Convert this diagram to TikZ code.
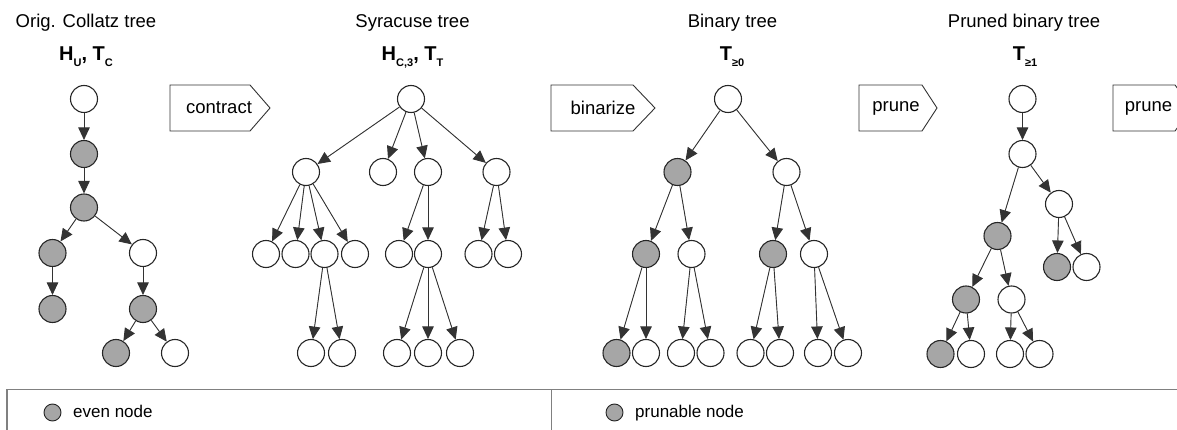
\documentclass[tikz,border=0pt]{standalone}
\usepackage{fontspec}
\setmainfont{Liberation Sans}
\usepackage{xcolor}
\usetikzlibrary{positioning, arrows.meta}
\definecolor{EvenFill}{RGB}{166, 166, 166}
\definecolor{EdgeGray}{RGB}{51, 51, 51}
\definecolor{FrameGray}{RGB}{128, 128, 128}
\newcommand{\tsub}[1]{\raisebox{-6pt}{\fontsize{11}{11}\selectfont #1}}

\begin{document}
\begin{tikzpicture}[x=1pt, y=-1pt,
            wnode/.style={circle, draw=black!85, line width=1.1pt, fill=white, minimum size=27pt, inner sep=0pt},
            gnode/.style={wnode, fill=EvenFill},
            edge/.style={draw=EdgeGray, line width=0.9pt, -{Triangle[length=12.5pt, width=11.5pt]}, fill=EdgeGray},
            stepbox/.style={draw=EdgeGray, line width=0.9pt, fill=white},
            steptext/.style={font=\fontsize{18.5}{20}\selectfont, inner sep=0pt},
            title/.style={font=\fontsize{18.5}{20}\selectfont, anchor=base},
            symb/.style={font=\fontsize{20}{22}\selectfont\bfseries, anchor=base},
            keytext/.style={font=\fontsize{17}{19}\selectfont, anchor=base west, inner sep=0pt}]
            \useasboundingbox (0,0) rectangle (1177,430);
            \clip (0,0) rectangle (1177,430);

            % Titles
            \node[title] (t1) at (86,28) {Orig. Collatz tree};
            \node[symb] (h1) at (86,61) {H\tsub{U}, T\tsub{C}};
            \node[title] (t2) at (412.5,28) {Syracuse tree};
            \node[symb] (h2) at (412.5,61) {H\tsub{C,3}, T\tsub{T}};
            \node[title] (t3) at (732.5,28) {Binary tree};
            \node[symb] (h3) at (732,61) {T\tsub{≥0}};
            \node[title] (t4) at (1024,28) {Pruned binary tree};
            \node[symb] (h4) at (1025,61) {T\tsub{≥1}};

            % Step arrows
            \draw[stepbox] (170,85) -- (250,85) -- (270,108) -- (250,131) -- (170,131) -- cycle;
            \node[steptext] (contract) at (219,108) {contract};
            \draw[stepbox] (551,85) -- (633,85) -- (655,108) -- (633,131) -- (551,131) -- cycle;
            \node[steptext] (binarize) at (603,108) {binarize};
            \draw[stepbox] (859,85) -- (922,85) -- (937,108) -- (922,131) -- (859,131) -- cycle;
            \node[steptext] (prune) at (896,108) {prune};
            \draw[stepbox] (1113,85) -- (1175,85) -- (1192,108) -- (1175,131) -- (1113,131) -- cycle;
            \node[steptext] (prunemore) at (1148.5,108) {prune};

            % Orig. Collatz tree
            \node[wnode] (c0) at (84,99) {};
            \node[gnode] (c1) at (84,154) {};
            \node[gnode] (c2) at (84,207.5) {};
            \node[gnode] (c3) at (52.5,253) {};
            \node[wnode] (c4) at (143,253) {};
            \node[gnode] (c5) at (52.5,309) {};
            \node[gnode] (c6) at (143,309) {};
            \node[gnode] (c7) at (116,353) {};
            \node[wnode] (c8) at (175,353) {};
            \foreach \a/\b in {c0/c1, c1/c2, c2/c3, c2/c4, c3/c5, c4/c6, c6/c7, c6/c8}
                \draw[edge] (\a) -- (\b);

            % Syracuse tree
            \node[wnode] (s0) at (411,99) {};
            \node[wnode] (s1) at (306,172) {};
            \node[wnode] (s2) at (383,172) {};
            \node[wnode] (s3) at (428,172) {};
            \node[wnode] (s4) at (496.5,172) {};
            \node[wnode] (s5) at (266,254) {};
            \node[wnode] (s6) at (295.5,254) {};
            \node[wnode] (s7) at (324.5,254) {};
            \node[wnode] (s8) at (355,254) {};
            \node[wnode] (s9) at (399,254) {};
            \node[wnode] (s10) at (428,254) {};
            \node[wnode] (s11) at (478.5,254) {};
            \node[wnode] (s12) at (508,254) {};
            \node[wnode] (s13) at (311,353) {};
            \node[wnode] (s14) at (342,353) {};
            \node[wnode] (s15) at (397,353) {};
            \node[wnode] (s16) at (428,353) {};
            \node[wnode] (s17) at (460,353) {};
            \foreach \a/\b in {s0/s1, s0/s2, s0/s3, s0/s4, s1/s5, s1/s6, s1/s7, s1/s8, s3/s9, s3/s10,
                               s4/s11, s4/s12, s7/s13, s7/s14, s10/s15, s10/s16, s10/s17}
                \draw[edge] (\a) -- (\b);

            % Binary tree
            \node[wnode] (b0) at (728,99) {};
            \node[gnode] (b1) at (677.5,172) {};
            \node[wnode] (b2) at (786.5,172) {};
            \node[gnode] (b3) at (646,254) {};
            \node[wnode] (b4) at (691.5,254) {};
            \node[gnode] (b5) at (773,254) {};
            \node[wnode] (b6) at (814,254) {};
            \node[gnode] (b7) at (616.5,353) {};
            \node[wnode] (b8) at (646,353) {};
            \node[wnode] (b9) at (681,353) {};
            \node[wnode] (b10) at (710.5,353) {};
            \node[wnode] (b11) at (750.5,353) {};
            \node[wnode] (b12) at (780,353) {};
            \node[wnode] (b13) at (818,353) {};
            \node[wnode] (b14) at (848,353) {};
            \foreach \a/\b in {b0/b1, b0/b2, b1/b3, b1/b4, b2/b5, b2/b6, b3/b7, b3/b8,
                               b4/b9, b4/b10, b5/b11, b5/b12, b6/b13, b6/b14}
                \draw[edge] (\a) -- (\b);

            % Pruned binary tree
            \node[wnode] (p0) at (1022.5,99) {};
            \node[wnode] (p1) at (1022.5,154) {};
            \node[gnode] (p2) at (997.5,236) {};
            \node[wnode] (p3) at (1059,204) {};
            \node[gnode] (p4) at (1057,267) {};
            \node[wnode] (p5) at (1086.5,267) {};
            \node[gnode] (p6) at (966,299.5) {};
            \node[wnode] (p7) at (1011.5,299.5) {};
            \node[gnode] (p8) at (940.5,354) {};
            \node[wnode] (p9) at (971,354) {};
            \node[wnode] (p10) at (1010,354) {};
            \node[wnode] (p11) at (1039.5,354) {};
            \foreach \a/\b in {p0/p1, p1/p2, p1/p3, p3/p4, p3/p5, p2/p6, p2/p7,
                               p6/p8, p6/p9, p7/p10, p7/p11}
                \draw[edge] (\a) -- (\b);

            % Legend
            \draw[FrameGray, line width=1.4pt] (7,450) -- (7,389.5) -- (1190,389.5);
            \draw[FrameGray, line width=1pt] (551,389.5) -- (551,450);
            \node[gnode, minimum size=17pt, line width=0.9pt] (evenkey) at (52.5,412.5) {};
            \node[keytext] (eventext) at (73,417) {even node};
            \node[gnode, minimum size=17pt, line width=0.9pt] (prunekey) at (614.5,412.5) {};
            \node[keytext] (prunetext) at (635,417) {prunable node};
        \end{tikzpicture}
\end{document}
